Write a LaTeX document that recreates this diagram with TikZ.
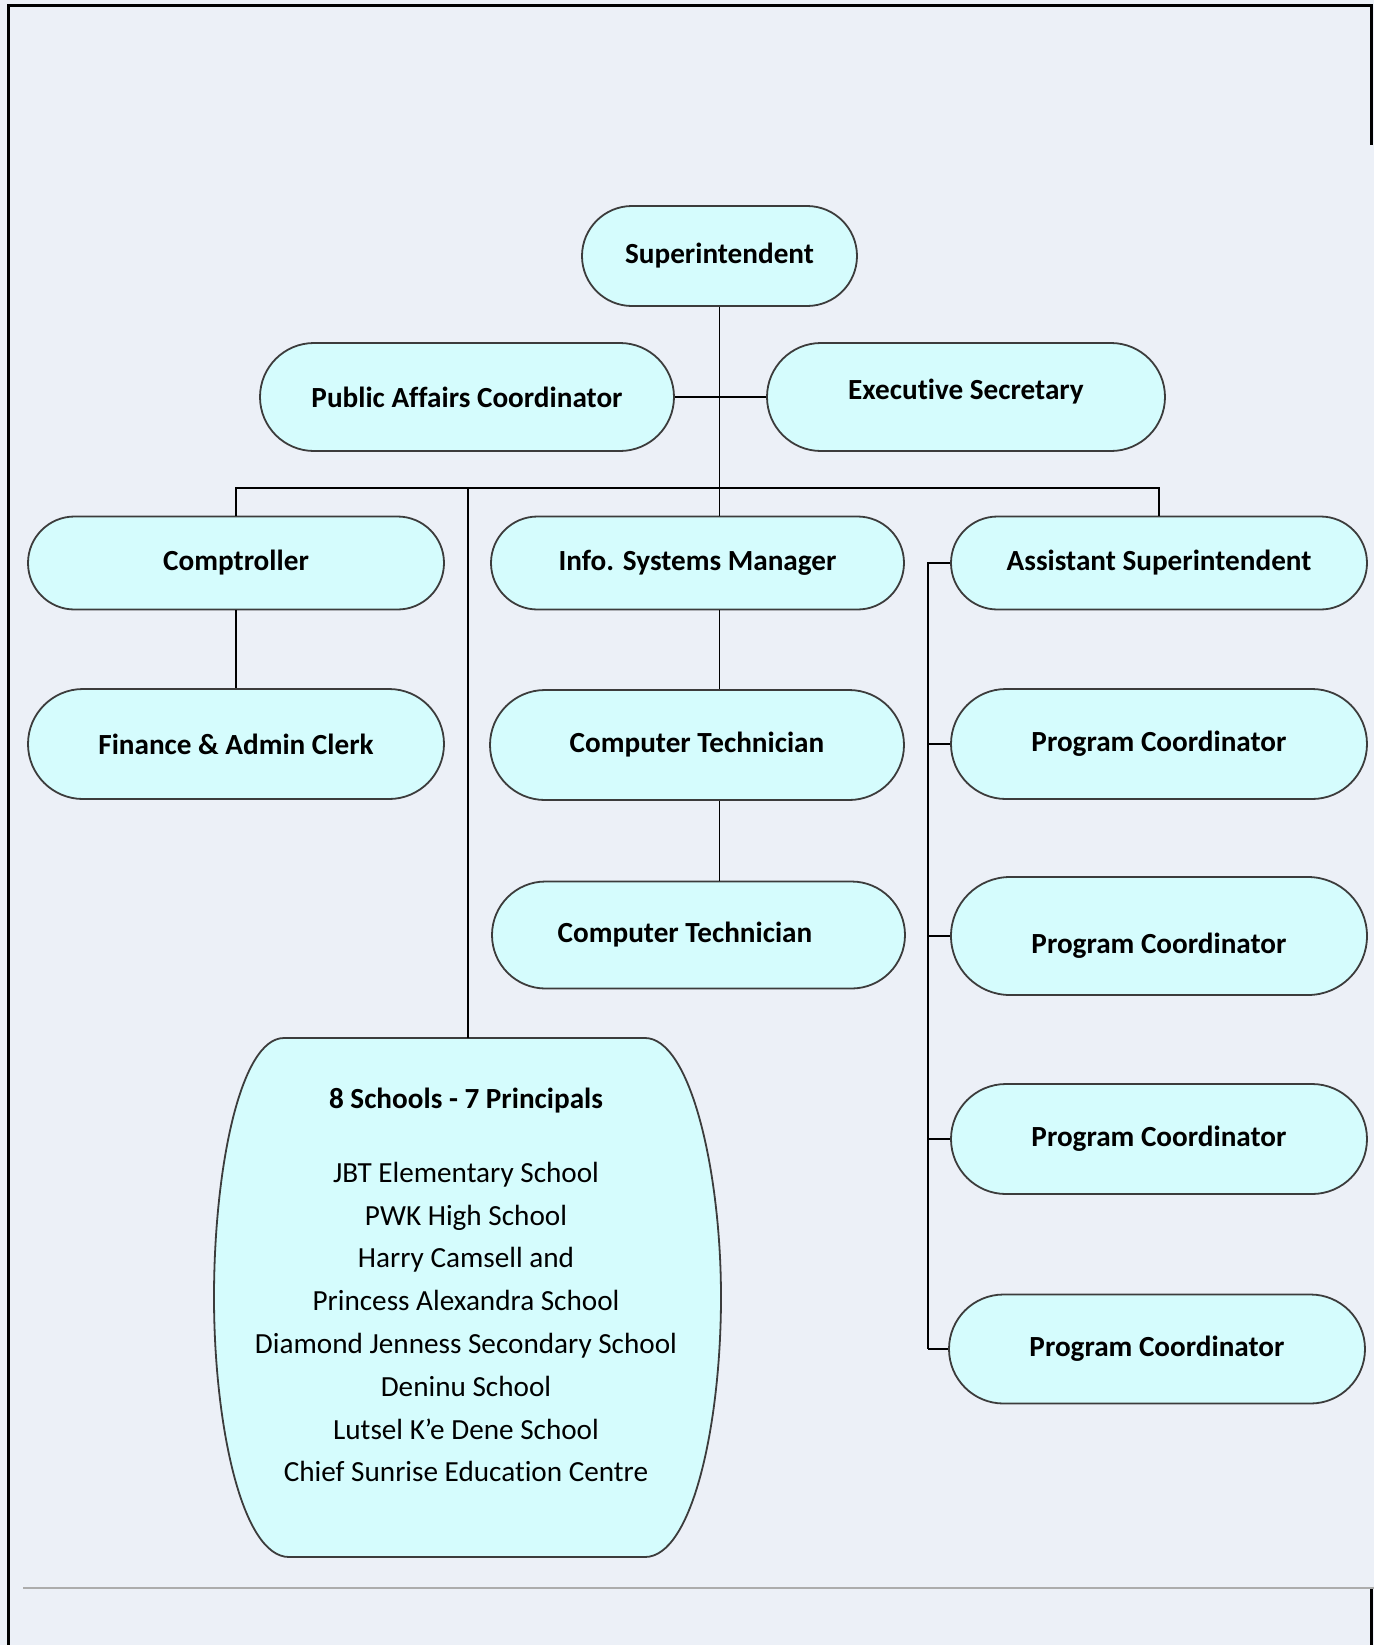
\documentclass[tikz,border=0pt]{standalone}
\usepackage{fontspec}
\setmainfont[Ligatures=NoCommon]{Carlito}
\usepackage{tikz}
\usetikzlibrary{shapes.misc}

\definecolor{pagebg}{RGB}{236,240,247}
\definecolor{boxfill}{RGB}{213,252,253}
\definecolor{boxline}{RGB}{60,60,60}
\definecolor{rulegray}{RGB}{172,172,172}

\begin{document}
\begin{tikzpicture}[x=0.5pt, y=-0.5pt,
    post/.style = {rounded rectangle, draw=boxline, line width=0.9pt, fill=boxfill,
                   font=\fontsize{14.6}{17}\selectfont\bfseries, inner sep=0pt,
                   minimum width=208pt},
    link/.style = {draw=black, line width=0.8pt}]
  \tikzset{every node/.style={anchor=center, text centered}}
  % page frame
  \useasboundingbox (0,0) rectangle (1374,1645);
  \fill[pagebg] (0,0) rectangle (1374,1645);
  \draw[line width=1.5pt] (8,1645) -- (8,5) -- (1371,5) -- (1371,145);
  \draw[line width=1.5pt] (1371,1588) -- (1371,1645);
  \draw[rulegray, line width=0.7pt] (23,1588) -- (1374,1588);

  % posts
  \node[post, minimum width=137.5pt, minimum height=50pt] (sup) at (719.5,256) {Superintendent};
  \node[post, minimum width=207pt, minimum height=54pt] (pac) at (467,397) {Public Affairs Coordinator};
  \node[post, minimum width=199pt, minimum height=54pt] (exs) at (966,397) {\raisebox{8pt}{Executive Secretary}};
  \node[post, minimum height=46.5pt] (comp) at (236,563) {Comptroller};
  \node[post, minimum width=206.5pt, minimum height=46.5pt] (ism) at (697.5,563) {Info. Systems Manager};
  \node[post, minimum height=46.5pt] (asst) at (1159,563) {Assistant Superintendent};
  \node[post, minimum height=55pt] (fin) at (236,744) {Finance \& Admin Clerk};
  \node[post, minimum width=207pt, minimum height=55pt] (tech1) at (697,745) {Computer Technician};
  \node[post, minimum width=206.5pt, minimum height=53.5pt] (tech2) at (698.5,935) {Computer Technician\hspace*{13.5pt}};
  \node[post, minimum height=55pt] (prog1) at (1159,744) {Program Coordinator};
  \node[post, minimum height=59pt] (prog2) at (1159,936) {\raisebox{0pt}[17pt][0pt]{Program Coordinator}};
  \node[post, minimum height=55pt] (prog3) at (1159,1139) {Program Coordinator};
  \node[post, minimum height=54.5pt] (prog4) at (1157,1349) {Program Coordinator};

  % schools barrel
  \coordinate (schtop) at (468,1038);
  \filldraw[draw=boxline, line width=0.9pt, fill=boxfill]
    (284,1038) -- (645,1038)
    .. controls (690,1038) and (721,1170) .. (721,1297)
    .. controls (721,1425) and (692,1557) .. (645,1557)
    -- (289,1557)
    .. controls (242,1557) and (214,1425) .. (214,1297)
    .. controls (214,1170) and (240,1038) .. (284,1038) -- cycle;
  \node[align=center, font=\fontsize{14.6}{21.4}\selectfont] (sch) at (466,1285)
    {{\bfseries 8 Schools - 7 Principals}\\[15.5pt]
     JBT Elementary School\\
     PWK High School\\
     Harry Camsell and\\
     Princess Alexandra School\\
     Diamond Jenness Secondary School\\
     Deninu School\\
     Lutsel K’e Dene School\\
     Chief Sunrise Education Centre};

  % lines
  \coordinate (bus) at (719.5,488);
  \coordinate (trunk) at (928,563);
  \draw[link] (sup.south) -- (bus);
  \draw[link] (pac.east) -- (exs.west);
  \draw[link] (comp.north) -- (comp.north |- bus) -- (asst.north |- bus) -- (asst.north);
  \draw[link] (bus) -- (ism.north -| bus);
  \draw[link] (schtop |- bus) -- (schtop);
  \draw[link] (comp.south) -- (fin.north);
  \draw[link] (ism.south -| bus) -- (tech1.north -| bus);
  \draw[link] (tech1.south -| bus) -- (tech2.north -| bus);
  \draw[link] (asst.west) -- (trunk) -- (prog4.west -| trunk);
  \foreach \i in {1,...,4}
    \draw[link] (prog\i.west -| trunk) -- (prog\i.west);
\end{tikzpicture}
\end{document}
